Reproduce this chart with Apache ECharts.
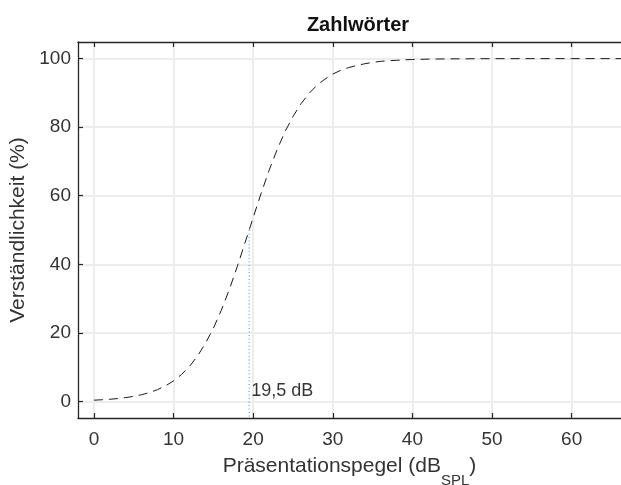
<!DOCTYPE html>
<html>
<head>
<meta charset="utf-8">
<title>Zahlwörter</title>
<script src="https://cdn.jsdelivr.net/npm/echarts@6/dist/echarts.min.js"></script>
<style>
  html, body { margin: 0; padding: 0; background: #ffffff; }
  #chart { width: 621px; height: 485px; }
</style>
</head>
<body>
<div id="chart"></div>
<script>
// Presentation level in dB SPL
const levels = [
  0, 1, 2, 3, 4, 5, 6, 7, 8, 9,
  10, 11, 12, 13, 14, 15, 16, 17, 18, 19,
  20, 21, 22, 23, 24, 25, 26, 27, 28, 29,
  30, 31, 32, 33, 34, 35, 36, 37, 38, 39,
  40, 42, 44, 46, 48, 50, 55, 60, 67
];
// Speech intelligibility of numbers (%)
const intelligibility = [
  0.35, 0.47, 0.62, 0.83, 1.1, 1.47, 1.95, 2.59, 3.44, 4.54,
  5.98, 7.84, 10.2, 13.2, 16.9, 21.3, 26.6, 32.6, 39.3, 46.4,
  53.6, 60.7, 67.4, 73.4, 78.7, 83.1, 86.8, 89.8, 92.2, 94.0,
  95.5, 96.6, 97.4, 98.0, 98.5, 98.9, 99.2, 99.4, 99.5, 99.65,
  99.74, 99.85, 99.92, 99.95, 99.97, 99.99, 100, 100, 100
];
// 50 % threshold
const thresholdDb = 19.5;
const thresholdPct = 50;
const thresholdLabelPct = 3.0;

const xTicks = [0, 10, 20, 30, 40, 50, 60];
const yTicks = [0, 20, 40, 60, 80, 100];

const xMin = -2.0, xMax = 66.2;
const yMin = -4.85, yMax = 104.85;

const FONT = '"Liberation Sans", Arial, Helvetica, sans-serif';
const AXIS_COLOR = '#262626';
const GRID_COLOR = '#ededed';

const curve = levels.map((x, i) => [x, intelligibility[i]]);

const chart = echarts.init(document.getElementById('chart'), null, { renderer: 'canvas' });

chart.setOption({
  animation: false,
  backgroundColor: '#ffffff',
  textStyle: { fontFamily: FONT },
  title: {
    text: 'Zahlwörter',
    left: 353,
    top: 10,
    textAlign: 'center',
    textStyle: { fontFamily: FONT, fontSize: 20, fontWeight: 'bold', color: '#111111' }
  },
  grid: { left: 78, right: 0, top: 42, bottom: 67, containLabel: false, outerBoundsMode: 'none' },
  xAxis: [
    {
      type: 'value',
      position: 'bottom',
      min: xMin,
      max: xMax,
      name: '{a|Präsentationspegel (dB}{s|SPL}{a|)}',
      nameLocation: 'middle',
      nameGap: 27,
      nameTextStyle: {
        rich: {
          a: { fontFamily: FONT, fontSize: 21, color: '#333333' },
          s: { fontFamily: FONT, fontSize: 15, color: '#333333', padding: [28, 0, 0, 0] }
        }
      },
      axisLine: { show: true, onZero: false, lineStyle: { color: AXIS_COLOR, width: 1.3 } },
      axisTick: { show: true, inside: true, length: 5, customValues: xTicks, lineStyle: { color: AXIS_COLOR, width: 1.2 } },
      axisLabel: { show: true, customValues: xTicks, margin: 12, fontFamily: FONT, fontSize: 19, color: '#333333' },
      splitLine: { show: true, lineStyle: { color: GRID_COLOR, width: 2 } }
    },
    {
      type: 'value',
      position: 'top',
      min: xMin,
      max: xMax,
      axisLine: { show: true, onZero: false, lineStyle: { color: AXIS_COLOR, width: 1.3 } },
      axisTick: { show: true, inside: true, length: 5, customValues: xTicks, lineStyle: { color: AXIS_COLOR, width: 1.2 } },
      axisLabel: { show: false },
      splitLine: { show: false }
    }
  ],
  yAxis: {
    type: 'value',
    min: yMin,
    max: yMax,
    name: 'Verständlichkeit (%)',
    nameLocation: 'middle',
    nameGap: 45,
    nameTextStyle: { fontFamily: FONT, fontSize: 21, color: '#333333' },
    axisLine: { show: true, onZero: false, lineStyle: { color: AXIS_COLOR, width: 1.3 } },
    axisTick: { show: true, inside: true, length: 5, customValues: yTicks, lineStyle: { color: AXIS_COLOR, width: 1.2 } },
    axisLabel: { show: true, customValues: yTicks, margin: 7, fontFamily: FONT, fontSize: 19, color: '#333333' },
    splitLine: { show: true, lineStyle: { color: GRID_COLOR, width: 2 } }
  },
  series: [
    {
      name: 'Schwelle',
      type: 'line',
      data: [[thresholdDb, thresholdPct], [thresholdDb, yMin]],
      showSymbol: false,
      symbol: 'none',
      lineStyle: { color: '#4a8cc8', width: 1, type: [1, 2.5] },
      z: 3
    },
    {
      name: 'Zahlwörter',
      type: 'line',
      data: curve,
      showSymbol: false,
      symbol: 'none',
      clip: true,
      lineStyle: { color: '#1a1a1a', width: 1, type: [9, 6] },
      z: 4
    },
    {
      name: 'Beschriftung',
      type: 'scatter',
      data: [[thresholdDb, thresholdLabelPct]],
      symbolSize: 0,
      label: {
        show: true,
        position: 'right',
        distance: 2,
        fontFamily: FONT,
        fontSize: 18,
        color: '#000000',
        formatter: () => String(thresholdDb).replace('.', ',') + ' dB'
      },
      z: 5
    }
  ]
});
</script>
</body>
</html>
